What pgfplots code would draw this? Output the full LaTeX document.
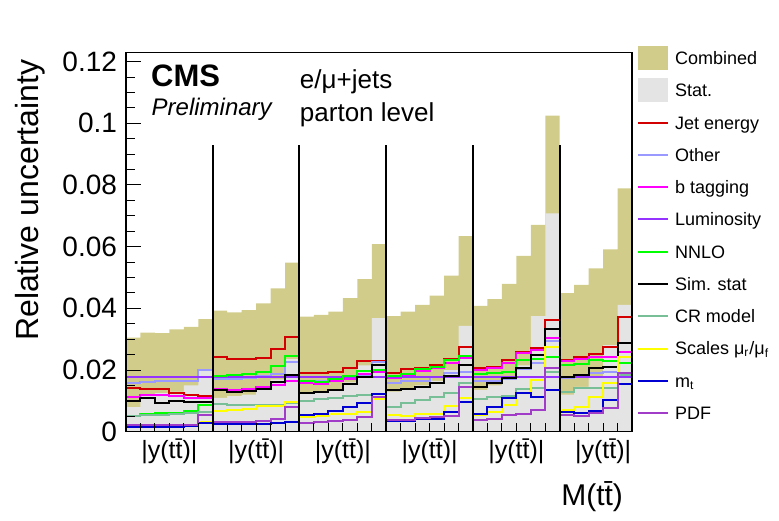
\documentclass[border=0pt]{standalone}
\usepackage{fontspec}
\setmainfont{Liberation Sans}
\usepackage{pgfplots}
\usepackage{pgfplotstable}
\pgfplotsset{compat=1.18}
\pgfplotsset{
  lineleg/.style={legend image code/.code={\draw[##1] (0pt,0pt) -- (15pt,0pt);}},
  boxleg/.style={legend image code/.code={\fill[##1] (0pt,-6pt) rectangle (15pt,6pt);}},
}
\definecolor{khaki}{RGB}{210,204,138}
\definecolor{statgrey}{RGB}{228,228,228}
\definecolor{cjes}{RGB}{210,0,0}
\definecolor{cother}{RGB}{153,153,255}
\definecolor{cbtag}{RGB}{255,0,255}
\definecolor{clumi}{RGB}{150,50,255}
\definecolor{cnnlo}{RGB}{0,255,0}
\definecolor{ccr}{RGB}{120,190,150}
\definecolor{cscales}{RGB}{255,255,0}
\definecolor{cmt}{RGB}{0,0,210}
\definecolor{cpdf}{RGB}{160,60,200}
\pgfplotstableread{
x comb stat jes other btag lumi nnlo sim cr scales mt pdf
0 0.0305 0.0080 0.0141 0.0157 0.0113 0.0177 0.0052 0.0100 0.0050 0.0020 0.0015 0.0022
1 0.0321 0.0120 0.0140 0.0160 0.0118 0.0177 0.0058 0.0110 0.0054 0.0020 0.0015 0.0022
2 0.0320 0.0125 0.0137 0.0163 0.0120 0.0177 0.0060 0.0092 0.0055 0.0020 0.0016 0.0022
3 0.0332 0.0130 0.0124 0.0165 0.0115 0.0177 0.0062 0.0100 0.0057 0.0020 0.0016 0.0023
4 0.0340 0.0150 0.0118 0.0166 0.0110 0.0177 0.0068 0.0097 0.0060 0.0022 0.0018 0.0023
5 0.0365 0.0200 0.0116 0.0200 0.0110 0.0177 0.0087 0.0095 0.0063 0.0030 0.0028 0.0055
6 0.0393 0.0110 0.0243 0.0172 0.0140 0.0177 0.0181 0.0135 0.0090 0.0068 0.0025 0.0032
7 0.0387 0.0115 0.0237 0.0172 0.0135 0.0177 0.0184 0.0128 0.0086 0.0072 0.0025 0.0032
8 0.0394 0.0120 0.0235 0.0174 0.0139 0.0177 0.0186 0.0131 0.0086 0.0074 0.0025 0.0032
9 0.0416 0.0140 0.0240 0.0180 0.0145 0.0177 0.0194 0.0140 0.0087 0.0084 0.0026 0.0034
10 0.0465 0.0170 0.0267 0.0186 0.0152 0.0177 0.0213 0.0162 0.0088 0.0084 0.0028 0.0041
11 0.0548 0.0235 0.0308 0.0227 0.0165 0.0177 0.0246 0.0184 0.0092 0.0097 0.0032 0.0081
12 0.0373 0.0125 0.0189 0.0165 0.0157 0.0177 0.0165 0.0125 0.0100 0.0048 0.0054 0.0029
13 0.0379 0.0130 0.0189 0.0165 0.0155 0.0177 0.0162 0.0128 0.0105 0.0050 0.0059 0.0032
14 0.0389 0.0135 0.0194 0.0170 0.0165 0.0177 0.0172 0.0135 0.0110 0.0057 0.0068 0.0034
15 0.0433 0.0160 0.0208 0.0175 0.0170 0.0177 0.0181 0.0155 0.0115 0.0058 0.0079 0.0038
16 0.0495 0.0215 0.0230 0.0185 0.0186 0.0177 0.0197 0.0178 0.0120 0.0065 0.0092 0.0049
17 0.0608 0.0368 0.0228 0.0225 0.0192 0.0177 0.0200 0.0216 0.0123 0.0105 0.0122 0.0113
18 0.0375 0.0130 0.0191 0.0159 0.0173 0.0177 0.0181 0.0135 0.0081 0.0054 0.0035 0.0038
19 0.0389 0.0135 0.0202 0.0165 0.0180 0.0177 0.0187 0.0138 0.0092 0.0051 0.0035 0.0038
20 0.0411 0.0150 0.0208 0.0166 0.0197 0.0177 0.0202 0.0146 0.0103 0.0057 0.0040 0.0043
21 0.0441 0.0165 0.0216 0.0176 0.0206 0.0177 0.0211 0.0157 0.0113 0.0058 0.0042 0.0048
22 0.0506 0.0200 0.0235 0.0189 0.0224 0.0177 0.0232 0.0181 0.0126 0.0084 0.0065 0.0051
23 0.0634 0.0343 0.0274 0.0195 0.0238 0.0177 0.0246 0.0216 0.0157 0.0108 0.0097 0.0146
24 0.0408 0.0135 0.0206 0.0164 0.0200 0.0177 0.0187 0.0146 0.0105 0.0054 0.0059 0.0038
25 0.0430 0.0150 0.0211 0.0166 0.0205 0.0177 0.0191 0.0157 0.0112 0.0065 0.0081 0.0040
26 0.0479 0.0170 0.0233 0.0170 0.0222 0.0177 0.0195 0.0173 0.0116 0.0087 0.0108 0.0054
27 0.0570 0.0215 0.0259 0.0202 0.0256 0.0177 0.0233 0.0205 0.0138 0.0124 0.0124 0.0056
28 0.0671 0.0375 0.0272 0.0222 0.0265 0.0177 0.0235 0.0249 0.0141 0.0168 0.0113 0.0070
29 0.1025 0.0708 0.0362 0.0295 0.0303 0.0177 0.0241 0.0332 0.0192 0.0276 0.0135 0.0205
30 0.0449 0.0120 0.0233 0.0175 0.0229 0.0177 0.0216 0.0178 0.0130 0.0070 0.0063 0.0054
31 0.0476 0.0145 0.0243 0.0180 0.0235 0.0177 0.0221 0.0184 0.0141 0.0081 0.0060 0.0051
32 0.0530 0.0180 0.0251 0.0190 0.0241 0.0177 0.0233 0.0206 0.0141 0.0114 0.0068 0.0062
33 0.0591 0.0281 0.0276 0.0195 0.0241 0.0177 0.0230 0.0211 0.0141 0.0157 0.0103 0.0076
34 0.0789 0.0411 0.0371 0.0190 0.0257 0.0177 0.0224 0.0289 0.0184 0.0241 0.0155 0.0190
35 0.0789 0.0411 0.0371 0.0190 0.0257 0.0177 0.0224 0.0289 0.0184 0.0241 0.0155 0.0190
}\data
\begin{document}
\begin{tikzpicture}
\useasboundingbox (-63pt,-44.15pt) rectangle (326.5pt,215.85pt);
\begin{axis}[
  at={(0,0)}, anchor=south west,
  width=253pt, height=189.5pt, scale only axis,
  xmin=0, xmax=35, ymin=0, ymax=0.1229,
  axis on top,
  every axis plot/.append style={const plot mark left},
  axis line style={line width=0.6pt},
  xtick={3,9,15,21,27,33},
  xticklabels={{|y(t\=t)|},{|y(t\=t)|},{|y(t\=t)|},{|y(t\=t)|},{|y(t\=t)|},{|y(t\=t)|}},
  minor xtick={1,2,...,34},
  major x tick style={draw=none},
  ytick={0,0.02,0.04,0.06,0.08,0.1,0.12},
  minor y tick num=3,
  xtick pos=bottom, ytick pos=left,
  tick align=inside,
  major tick length=7.5pt, minor tick length=4.5pt,
  tick style={black, line width=0.5pt},
  scaled y ticks=false,
  /pgf/number format/assume math mode=true,
  yticklabel style={/pgf/number format/fixed, /pgf/number format/precision=2, font=\fontsize{14}{14}\selectfont, xshift=-1pt},
  xticklabel style={font=\fontsize{12.5}{13}\selectfont},
  every axis y label/.style={at={(axis description cs:0,1)}, xshift=-47.7pt, anchor=east, rotate=90, font=\fontsize{16}{16}\selectfont},
  ylabel={Relative uncertainty},
  every axis x label/.style={at={(axis description cs:1,0)}, anchor=east, yshift=-32.6pt, xshift=-1pt, font=\fontsize{15}{15}\selectfont},
  xlabel={M(t\=t)},
  lineleg,
  legend cell align=left,
  legend style={at={(axis description cs:1,1)}, anchor=north west, xshift=2.5pt, yshift=5.4pt,
    draw=none, fill=none, inner sep=0pt, outer sep=0pt, row sep=0pt, column sep=3pt,
    font=\fontsize{9}{10}\selectfont,
    nodes={inner sep=0pt, text height=11.27pt, text depth=4.87pt}},
]
\addplot[fill=khaki, draw=none, boxleg] table[x=x,y=comb]{\data} \closedcycle;
\addlegendentry{Combined}
\addplot[fill=statgrey, draw=none, boxleg] table[x=x,y=stat]{\data} \closedcycle;
\addlegendentry{Stat.}
\addplot[cjes, line width=1pt] table[x=x,y=jes]{\data};
\addlegendentry{Jet energy}
\addplot[cother, line width=1pt] table[x=x,y=other]{\data};
\addlegendentry{Other}
\addplot[cbtag, line width=1pt] table[x=x,y=btag]{\data};
\addlegendentry{b tagging}
\addplot[clumi, line width=1pt] table[x=x,y=lumi]{\data};
\addlegendentry{Luminosity}
\addplot[cnnlo, line width=1pt] table[x=x,y=nnlo]{\data};
\addlegendentry{NNLO}
\addplot[black, line width=1pt] table[x=x,y=sim]{\data};
\addlegendentry{Sim. stat}
\addplot[ccr, line width=1pt] table[x=x,y=cr]{\data};
\addlegendentry{CR model}
\addplot[cscales, line width=1pt] table[x=x,y=scales]{\data};
\addlegendentry{Scales μ\textsubscript{r}/μ\textsubscript{f}}
\addplot[cmt, line width=1pt] table[x=x,y=mt]{\data};
\addlegendentry{m\textsubscript{t}}
\addplot[cpdf, line width=1pt] table[x=x,y=pdf]{\data};
\addlegendentry{PDF}
\addplot[black, line width=1pt, forget plot] coordinates {(6,0) (6,0.093)};
\addplot[black, line width=1pt, forget plot] coordinates {(12,0) (12,0.093)};
\addplot[black, line width=1pt, forget plot] coordinates {(18,0) (18,0.093)};
\addplot[black, line width=1pt, forget plot] coordinates {(24,0) (24,0.093)};
\addplot[black, line width=1pt, forget plot] coordinates {(30,0) (30,0.093)};
\node[anchor=base west, inner sep=0pt, font=\bfseries\fontsize{15.5}{16}\selectfont] at (axis description cs:0.049,0.912) {CMS};
\node[anchor=base west, inner sep=0pt, font=\itshape\fontsize{12}{12}\selectfont] at (axis description cs:0.050,0.833) {Preliminary};
\node[anchor=base west, inner sep=0pt, font=\fontsize{13}{13}\selectfont] at (axis description cs:0.343,0.906) {e/μ+jets};
\node[anchor=base west, inner sep=0pt, font=\fontsize{13}{13}\selectfont] at (axis description cs:0.343,0.818) {parton level};
\node[anchor=base east, inner sep=0pt, font=\fontsize{15}{15}\selectfont] at (axis description cs:1,1) [xshift=-4pt, yshift=5pt] {137 fb\textsuperscript{-1} (13 TeV)};
\end{axis}
\end{tikzpicture}
\end{document}
